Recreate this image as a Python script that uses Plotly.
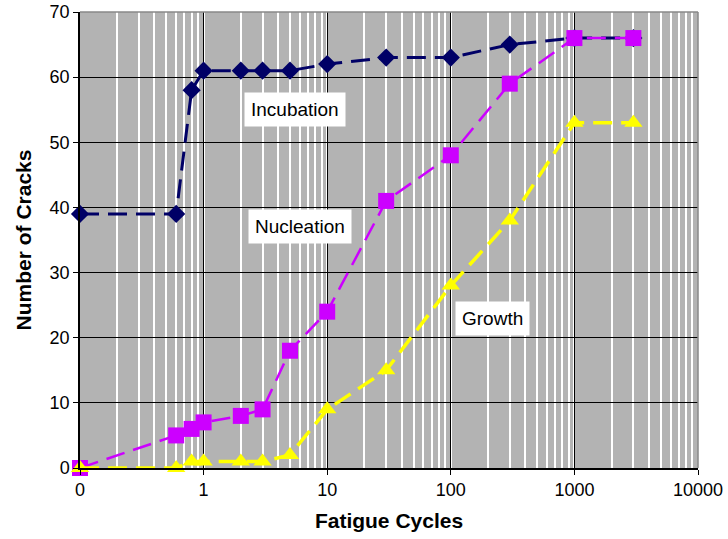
import math
import plotly.graph_objects as go

# Fatigue cycles (the first point, 0.1, sits on the axis origin labelled "0")
cycles = [0.1, 0.6, 0.8, 1, 2, 3, 5, 10, 30, 100, 300, 1000, 3000]

incubation = [39, 39, 58, 61, 61, 61, 61, 62, 63, 63, 65, 66, 66]
nucleation = [0, 5, 6, 7, 8, 9, 18, 24, 41, 48, 59, 66, 66]
growth = [0, 0, 1, 1, 1, 1, 2, 9, 15, 28, 38, 53, 53]

x_tick_vals = [0.1, 1, 10, 100, 1000, 10000]
x_tick_text = ["0", "1", "10", "100", "1000", "10000"]
y_tick_vals = [0, 10, 20, 30, 40, 50, 60, 70]

# Stage labels: text, cycles, crack count
stage_labels = [("Incubation", 5.5, 55.1), ("Nucleation", 6.0, 37.0), ("Growth", 217, 22.9)]

FONT = "Liberation Sans, Arial, sans-serif"
DASH = "19px,9px"

fig = go.Figure()

fig.add_trace(go.Scatter(
    x=cycles, y=incubation, mode="lines+markers", name="Incubation",
    line=dict(color="#000066", width=3, dash=DASH),
    marker=dict(symbol="diamond", size=14, color="#000066"),
    cliponaxis=False,
))
fig.add_trace(go.Scatter(
    x=cycles, y=nucleation, mode="lines+markers", name="Nucleation",
    line=dict(color="#CC00FF", width=2.5, dash=DASH),
    marker=dict(symbol="square", size=16, color="#CC00FF"),
    cliponaxis=False,
))
fig.add_trace(go.Scatter(
    x=cycles, y=growth, mode="lines+markers", name="Growth",
    line=dict(color="#FFFF00", width=3.5, dash=DASH),
    marker=dict(symbol="triangle-up", size=16, color="#FFFF00"),
    cliponaxis=False,
))

for text, x, y in stage_labels:
    fig.add_annotation(
        x=math.log10(x), y=y, text=text, showarrow=False,
        bgcolor="white", borderpad=6,
        font=dict(family=FONT, size=19, color="black"),
    )

fig.update_layout(
    width=728, height=539,
    margin=dict(l=80, r=30, t=12, b=71),
    paper_bgcolor="white",
    plot_bgcolor="#B3B3B3",
    showlegend=False,
    font=dict(family=FONT, size=18, color="black"),
)

fig.update_xaxes(
    type="log", range=[-1, 4], automargin=False,
    tickvals=x_tick_vals, ticktext=x_tick_text,
    ticks="outside", ticklen=5, tickcolor="black",
    showgrid=True, gridcolor="black", gridwidth=1,
    minor=dict(dtick="D1", showgrid=True, gridcolor="white", gridwidth=1.5, ticks=""),
    showline=True, linecolor="black", linewidth=1.5,
    title=dict(text="<b>Fatigue Cycles</b>", font=dict(family=FONT, size=21), standoff=14),
    tickfont=dict(family=FONT, size=18),
    zeroline=False,
)
fig.update_yaxes(
    range=[0, 70], tickvals=y_tick_vals, automargin=False,
    ticks="outside", ticklen=5, tickcolor="black",
    showgrid=True, gridcolor="black", gridwidth=1,
    showline=True, linecolor="black", linewidth=1.5,
    title=dict(text="<b>Number of Cracks</b>", font=dict(family=FONT, size=21), standoff=12),
    tickfont=dict(family=FONT, size=18),
    zeroline=False,
)

# Thin grey frame on the top and right edges of the plot area
fig.add_shape(type="line", xref="paper", yref="paper", x0=0, x1=1, y0=1, y1=1,
              line=dict(color="#888888", width=1.5))
fig.add_shape(type="line", xref="paper", yref="paper", x0=1, x1=1, y0=0, y1=1,
              line=dict(color="#888888", width=1.5))

fig.write_html("out.html")
